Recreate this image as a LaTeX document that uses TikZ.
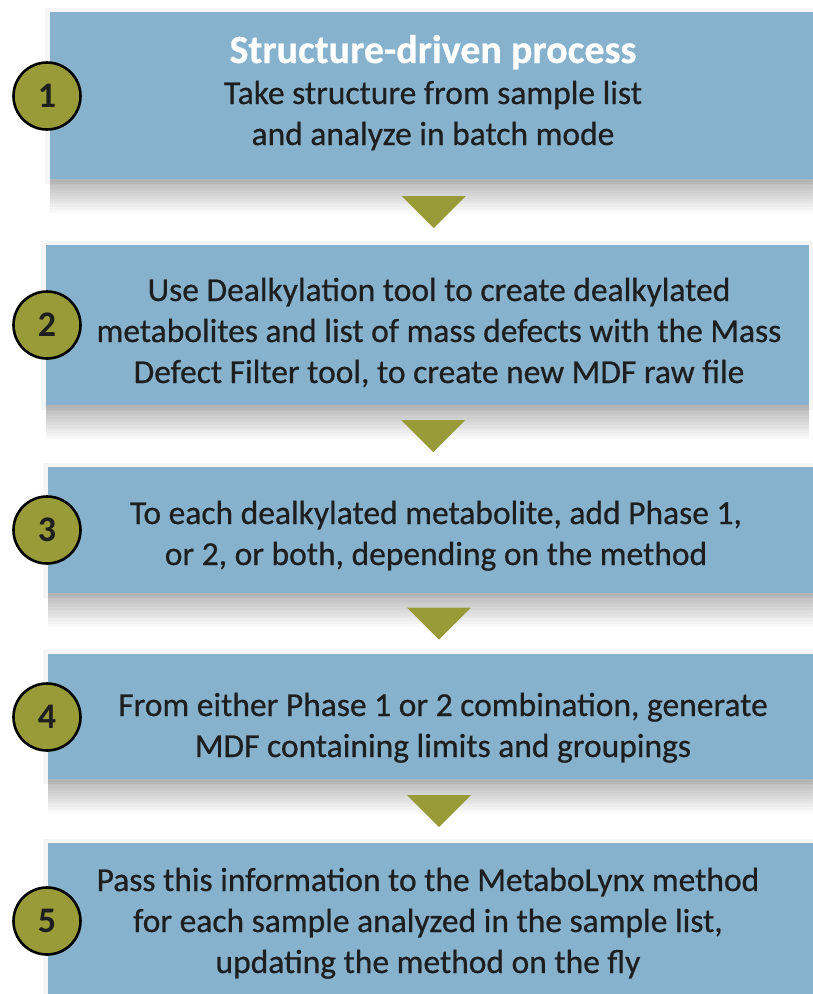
\documentclass[tikz,border=0pt]{standalone}
\usepackage{fontspec}
\setmainfont{Carlito}
\usepackage{xcolor}
\usepackage{tikz}
\usetikzlibrary{calc,backgrounds}
\definecolor{boxblue}{RGB}{134,178,205}
\definecolor{olivegr}{RGB}{152,155,56}
\definecolor{txtdark}{RGB}{30,30,30}

\begin{document}
\begin{tikzpicture}[x=1pt, y=-1pt,
    stepbox/.style={fill=boxblue, inner sep=0pt},
    steptext/.style={anchor=base, inner sep=0pt, text=txtdark, align=center,
        font=\fontsize{33.5}{41}\selectfont\addfontfeature{FakeBold=0.6}},
    num/.style={circle, draw=black, line width=2.6pt, fill=olivegr, minimum size=67pt, inner sep=0pt,
        text=txtdark, font=\fontsize{36}{36}\selectfont\bfseries},
    tri/.style={fill=olivegr}]
    \useasboundingbox (0,0) rectangle (812,994);

    % boxes
    \node[stepbox, minimum width=780pt, minimum height=167pt] (b1) at (440,95.5) {};
    \node[stepbox, minimum width=763pt, minimum height=160pt] (b2) at (427.5,325) {};
    \node[stepbox, minimum width=782pt, minimum height=126pt] (b3) at (439,530) {};
    \node[stepbox, minimum width=782pt, minimum height=125pt] (b4) at (439,716.5) {};
    \node[stepbox, minimum width=782pt, minimum height=167pt] (b5) at (439,926.5) {};

    % soft shadows under the boxes
    \begin{scope}[on background layer]
        \fill[white] (0,0) rectangle (812,994);
        \foreach \b in {b1,b2,b3,b4,b5} {
            \fill[black, opacity=0.04] ([shift={(-5,-4)}]\b.north west) rectangle ([shift={(5,5)}]\b.south east);
            \foreach \k in {1,...,12}
                \fill[black, opacity=0.022] (\b.south west) rectangle ([yshift=-\k*2.8pt]\b.south east);
        }
    \end{scope}

    % texts (anchored on the baseline of the last line)
    \node[steptext] (t1) at (433,145)
        {{\color{white}\fontsize{40}{41}\selectfont\bfseries Structure-driven process}\\Take structure from sample list\\and analyze in batch mode};
    \node[steptext] (t2) at (439,383)
        {Use Dealkylation tool to create dealkylated\\metabolites and list of mass defects with the Mass\\Defect Filter tool, to create new MDF raw file};
    \node[steptext] (t3) at (436,565)
        {To each dealkylated metabolite, add Phase 1,\\or 2, or both, depending on the method};
    \node[steptext] (t4) at (443,757)
        {From either Phase 1 or 2 combination, generate\\MDF containing limits and groupings};
    \node[steptext] (t5) at (428,973)
        {Pass this information to the MetaboLynx method\\for each sample analyzed in the sample list,\\updating the method on the fly};

    % numbers
    \node[num] (n1) at (47,96) {1};
    \node[num] (n2) at (47,325) {2};
    \node[num] (n3) at (47,530) {3};
    \node[num] (n4) at (47,717) {4};
    \node[num] (n5) at (47,921) {5};

    % arrows between steps
    \foreach \a/\b/\i in {b1/b2/1, b2/b3/2, b3/b4/3, b4/b5/4} {
        \coordinate (m\i) at ($(\a.south)!.5!(\b.north)$);
        \fill[tri] ($(m\i)+(-32,-16)$) -- ($(m\i)+(32,-16)$) -- ($(m\i)+(0,16)$) -- cycle;
    }
\end{tikzpicture}
\end{document}
